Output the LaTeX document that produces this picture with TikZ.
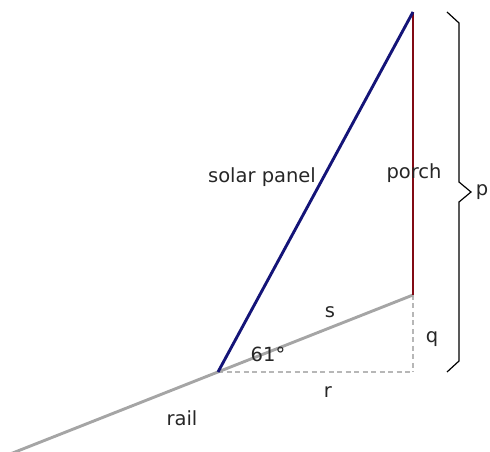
\documentclass[tikz,border=0pt]{standalone}
\usepackage{fontspec}
\setmainfont{DejaVu Sans}
\usetikzlibrary{positioning}
\begin{document}
\begin{tikzpicture}[
    x=1pt, y=1pt,
    font=\fontsize{19.5}{22}\selectfont,
    panelline/.style={draw=panelblue, line width=2.9pt},
    porchline/.style={draw=porchred, line width=2.9pt},
    railline/.style={draw=railgray, line width=2.9pt},
    helpline/.style={draw=railgray!80, line width=1.2pt, dash pattern=on 5pt off 3.5pt},
    braceline/.style={draw=black, line width=1.2pt},
    lbl/.style={inner sep=1pt, text=black!85}
]
% Define colors
\definecolor{panelblue}{RGB}{20,20,120}
\definecolor{porchred}{RGB}{130,10,20}
\definecolor{railgray}{RGB}{165,165,165}

\useasboundingbox (0,0) rectangle (490,452);
\clip (0,0) rectangle (490,452);

% Key points
\coordinate (base) at (218,80);    % panel on rail
\coordinate (top) at (413,440);    % top of porch
\coordinate (foot) at (413,157);   % porch meets rail
\coordinate (corner) at (413,80);  % right angle
\coordinate (railend) at (0,-6);   % rail leaves picture

% Brace points
\coordinate (brA) at (447,440);
\coordinate (brB) at (459,429);
\coordinate (brC) at (459,270);
\coordinate (brtip) at (471,260);
\coordinate (brD) at (459,250);
\coordinate (brE) at (459,91);
\coordinate (brF) at (447,80);

% Dashed helpers
\draw[helpline] (base) -- (corner);
\draw[helpline] (foot) -- (corner);

% Rail, porch and panel
\draw[railline] (railend) -- (foot);
\draw[porchline] (foot) -- (top);
\draw[panelline] (base) -- (top);

% Brace
\draw[braceline] (brA) -- (brB) -- (brC) -- (brtip) -- (brD) -- (brE) -- (brF);

% Labels
\node[lbl] (panellbl) at (262,275) {solar panel};
\node[lbl] (porchlbl) at (414,279) {porch};
\node[lbl] (plbl) at (482,260) {p};
\node[lbl] (slbl) at (330,140) {s};
\node[lbl] (qlbl) at (432,113) {q};
\node[lbl] (rlbl) at (328,60) {r};
\node[lbl] (anglelbl) at (268,98) {61°};
\node[lbl] (raillbl) at (182,34) {rail};

\end{tikzpicture}
\end{document}
